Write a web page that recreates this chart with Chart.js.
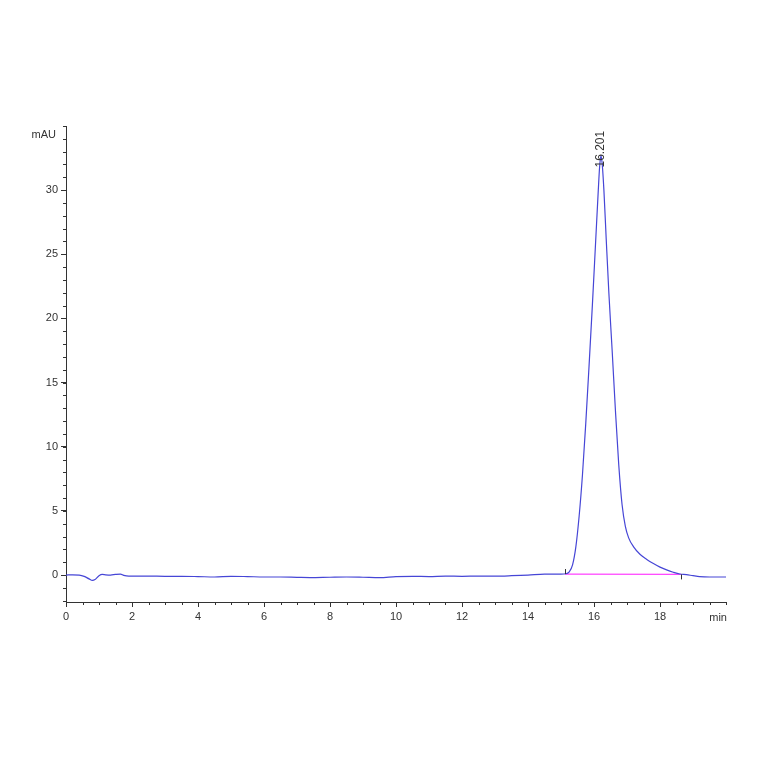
<!DOCTYPE html>
<html lang="en">
<head>
<meta charset="UTF-8">
<title>Chromatogram</title>
<style>
  body{margin:0;background:#fff;}
  #wrap{width:764px;height:764px;}
</style>
</head>
<body>
<div id="wrap"><canvas id="chart" width="764" height="764"></canvas></div>
<script src="https://cdn.jsdelivr.net/npm/chart.js"></script>
<script>
// retention time (min) and signal (mAU)
const times = [0, 0.2, 0.4, 0.55, 0.7, 0.8, 0.88, 1.0, 1.1, 1.2, 1.35, 1.5, 1.65, 1.75, 1.9,
  2.5, 3.0, 3.5, 4.0, 4.5, 5.0, 5.5, 6.0, 6.5, 7.0, 7.4, 8.0, 8.5, 9.0, 9.5, 10.0,
  10.5, 11.0, 11.5, 12.0, 12.5, 13.0, 13.5, 14.0, 14.5, 15.0, 15.15, 15.25, 15.35,
  15.45, 15.55, 15.65, 15.75, 15.85, 15.95, 16.05, 16.13, 16.17, 16.21, 16.25, 16.3,
  16.37, 16.45, 16.55, 16.65, 16.75, 16.85, 16.95, 17.05, 17.2, 17.4, 17.6, 17.8,
  18.0, 18.2, 18.4, 18.6, 18.8, 19.0, 19.2, 19.5, 19.8, 20.0]
const signal = [0.0, 0.02, 0.0, -0.1, -0.3, -0.42, -0.35, -0.05, 0.05, 0.02, 0.0, 0.05, 0.08, -0.02, -0.08,
  -0.08, -0.1, -0.1, -0.12, -0.15, -0.1, -0.12, -0.15, -0.15, -0.18, -0.2, -0.17, -0.15, -0.17, -0.2, -0.12,
  -0.1, -0.12, -0.08, -0.1, -0.08, -0.08, -0.05, 0.0, 0.08, 0.08, 0.1, 0.25, 0.8,
  2.2, 4.6, 7.8, 11.8, 16.3, 21.0, 26.0, 30.0, 31.8, 32.7, 32.0, 30.0,
  26.2, 22.0, 17.5, 12.8, 8.6, 5.5, 3.8, 2.9, 2.2, 1.6, 1.22, 0.9,
  0.62, 0.4, 0.22, 0.08, 0.03, -0.05, -0.12, -0.15, -0.15, -0.15]

// integration baseline
const baseTimes = [15.12, 18.63]
const baseValues = [0.08, 0.05]

// peak annotation
const peakTimes = [16.201]
const peakHeights = [32.7]
const peakLabels = ['16.201']

const xTickLabels = [0, 2, 4, 6, 8, 10, 12, 14, 16, 18]
const yTickLabels = [0, 5, 10, 15, 20, 25, 30]
const xUnit = 'min'
const yUnit = 'mAU'

const xMin = 0, xMax = 20, yMin = -2.1, yMax = 35
const xMinorStep = 0.5, yMinorStep = 1

const traceData = times.map((t, i) => ({x: t, y: signal[i]}))
const baseData = baseTimes.map((t, i) => ({x: t, y: baseValues[i]}))

const fontFam = '"Liberation Sans", Arial, sans-serif'

const extras = {
  id: 'extras',
  afterDraw(chart) {
    const ctx = chart.ctx, xs = chart.scales.x, ys = chart.scales.y
    ctx.save()
    ctx.strokeStyle = '#333'
    ctx.lineWidth = 1
    ctx.beginPath()
    // minor ticks
    for (let v = xMin; v <= xMax + 1e-9; v += xMinorStep) {
      const p = Math.round(xs.getPixelForValue(v)) + 0.5
      ctx.moveTo(p, ys.bottom); ctx.lineTo(p, ys.bottom + 3)
    }
    for (let v = Math.ceil(yMin); v <= yMax; v += yMinorStep) {
      const p = Math.round(ys.getPixelForValue(v)) + 0.5
      ctx.moveTo(xs.left, p); ctx.lineTo(xs.left - 3, p)
    }
    // integration markers
    ctx.moveTo(Math.round(xs.getPixelForValue(baseTimes[0])) + 0.5, ys.getPixelForValue(baseValues[0]))
    ctx.lineTo(Math.round(xs.getPixelForValue(baseTimes[0])) + 0.5, ys.getPixelForValue(baseValues[0]) - 5)
    ctx.moveTo(Math.round(xs.getPixelForValue(baseTimes[1])) + 0.5, ys.getPixelForValue(baseValues[1]))
    ctx.lineTo(Math.round(xs.getPixelForValue(baseTimes[1])) + 0.5, ys.getPixelForValue(baseValues[1]) + 5)
    ctx.stroke()

    ctx.fillStyle = '#333'
    ctx.font = '11px ' + fontFam
    ctx.textAlign = 'right'
    ctx.textBaseline = 'middle'
    ctx.fillText(yUnit, xs.left - 10, ys.getPixelForValue(34.3))
    ctx.textAlign = 'center'
    ctx.textBaseline = 'top'
    ctx.fillText(xUnit, xs.getPixelForValue(19.76), ys.bottom + 10)

    // peak label, rotated
    ctx.font = '12px ' + fontFam
    peakTimes.forEach((t, i) => {
      const px = xs.getPixelForValue(t), py = ys.getPixelForValue(peakHeights[i])
      ctx.save()
      ctx.translate(px, py + 12)
      ctx.rotate(-Math.PI / 2)
      ctx.textAlign = 'left'
      ctx.textBaseline = 'middle'
      ctx.fillText(peakLabels[i], 0, 0)
      ctx.restore()
    })
    ctx.restore()
  }
}

new Chart(document.getElementById('chart'), {
  type: 'scatter',
  data: {
    datasets: [
      {data: baseData, showLine: true, borderColor: '#ff44ff', borderWidth: 1.2, pointRadius: 0, order: 2},
      {data: traceData, showLine: true, borderColor: '#4646d6', borderWidth: 1.2, pointRadius: 0,
       cubicInterpolationMode: 'monotone', order: 1}
    ]
  },
  options: {
    responsive: false,
    animation: false,
    layout: {padding: {left: 0, top: 126, right: 38, bottom: 122}},
    plugins: {legend: {display: false}, tooltip: {enabled: false}},
    scales: {
      x: {
        type: 'linear', min: xMin, max: xMax,
        afterFit: s => { s.height = 40 },
        afterBuildTicks: s => { s.ticks = xTickLabels.map(v => ({value: v})) },
        grid: {display: true, drawOnChartArea: false, tickLength: 5, color: '#333'},
        border: {display: true, color: '#333', width: 1},
        ticks: {color: '#333', font: {family: fontFam, size: 11}, padding: 3, maxRotation: 0}
      },
      y: {
        type: 'linear', min: yMin, max: yMax,
        afterFit: s => { s.width = 66 },
        afterBuildTicks: s => { s.ticks = yTickLabels.map(v => ({value: v})) },
        grid: {display: true, drawOnChartArea: false, tickLength: 5, color: '#333'},
        border: {display: true, color: '#333', width: 1},
        ticks: {color: '#333', font: {family: fontFam, size: 11}, padding: 3}
      }
    }
  },
  plugins: [extras]
})
</script>
</body>
</html>
